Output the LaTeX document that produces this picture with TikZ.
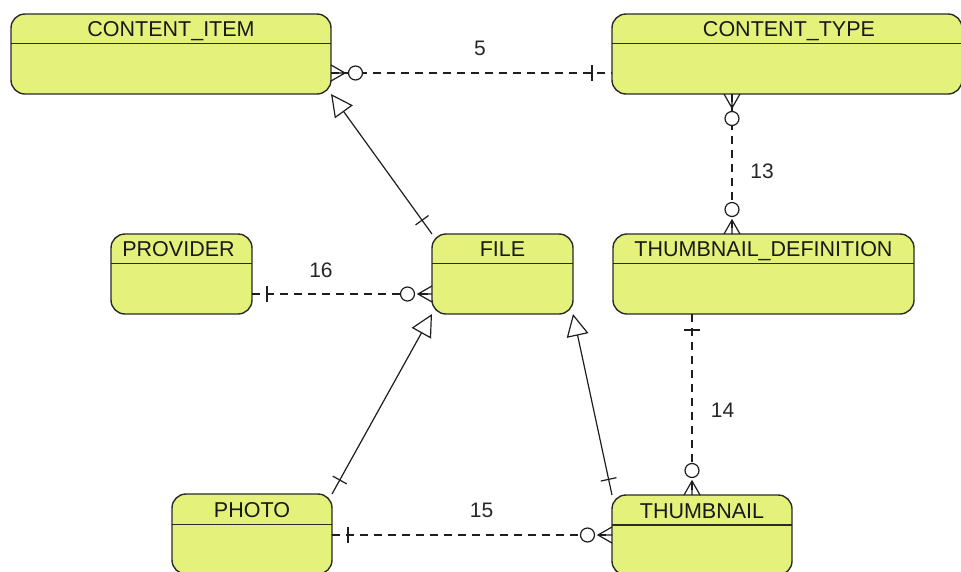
\documentclass[tikz,border=0pt]{standalone}
\usepackage{fontspec}
\setmainfont{Liberation Sans}
\usetikzlibrary{arrows.meta,decorations.markings}
\definecolor{cEnt}{HTML}{E4F27B}
\definecolor{cEdge}{HTML}{2A2A2A}
\definecolor{cLine}{HTML}{1E1E1E}
% crow's foot with ring; #1 = 1 at the start of a path, -1 at its end
\newcommand{\crowmany}[1]{%
  \draw[-,solid,line width=1.2pt,draw=cLine,xscale=#1]
    (-14pt,8pt) -- (0pt,0pt) -- (-14pt,-8pt) (-14pt,0pt) -- (0pt,0pt);
  \draw[-,solid,line width=1.2pt,draw=cLine,fill=white,xscale=#1] (10.5pt,0pt) circle (7pt);}
\newcommand{\onebar}{\draw[-,solid,line width=1.2pt,draw=cLine] (0pt,8pt) -- (0pt,-8pt);}
\tikzset{
  entity/.style ={draw=cEdge,fill=cEnt,line width=1.4pt,rounded corners=14pt,
                  minimum height=80pt,inner sep=0pt,outer sep=0pt,anchor=north west},
  divider/.style={draw=cEdge,line width=1.4pt},
  title/.style  ={font=\fontsize{21.5}{25}\selectfont,text=black!90,anchor=base,inner sep=0pt},
  rel/.style    ={draw=cLine,line width=1.2pt,dash pattern=on 8pt off 6pt},
  gen/.style    ={draw=cLine,line width=1.2pt,-{Triangle[open,length=22pt,width=22pt]}},
  lbl/.style    ={font=\fontsize{21}{25}\selectfont,text=black!85,inner sep=0pt},
  manyS/.style  ={postaction={decorate,decoration={markings,
                  mark=at position 14pt with {\crowmany{1}}}}},
  manyE/.style  ={postaction={decorate,decoration={markings,
                  mark=at position -14pt with {\crowmany{-1}}}}},
  onemark/.style={postaction={decorate,decoration={markings,
                  mark=at position #1 with {\onebar}}}},
  onemark/.default=17pt,
}

\begin{document}
\begin{tikzpicture}[x=1pt,y=-1pt]
\useasboundingbox (0,0) rectangle (961,571);
\clip (0,0) rectangle (961,571);

% --- entities ------------------------------------------------------------
\node[entity,minimum width=320pt] (ci) at (11,14) {};
\draw[divider] ([yshift=-29.5pt]ci.north west) -- ([yshift=-29.5pt]ci.north east);
\node[title] (ci-t) at ([yshift=-22.5pt]ci.north) {CONTENT\_ITEM};

\node[entity,minimum width=350pt] (ct) at (612,14) {};
\draw[divider] ([yshift=-29.5pt]ct.north west) -- ([yshift=-29.5pt]ct.north east);
\node[title] (ct-t) at ([yshift=-22.5pt,xshift=2pt]ct.north) {CONTENT\_TYPE};

\node[entity,minimum width=141pt] (pv) at (111,234) {};
\draw[divider] ([yshift=-29.5pt]pv.north west) -- ([yshift=-29.5pt]pv.north east);
\node[title] (pv-t) at ([yshift=-22.5pt,xshift=-3pt]pv.north) {PROVIDER};

\node[entity,minimum width=141pt] (fl) at (432,234) {};
\draw[divider] ([yshift=-29.5pt]fl.north west) -- ([yshift=-29.5pt]fl.north east);
\node[title] (fl-t) at ([yshift=-22.5pt]fl.north) {FILE};

\node[entity,minimum width=301pt] (td) at (613,234) {};
\draw[divider] ([yshift=-29.5pt]td.north west) -- ([yshift=-29.5pt]td.north east);
\node[title] (td-t) at ([yshift=-22.5pt]td.north) {THUMBNAIL\_DEFINITION};

\node[entity,minimum width=160pt] (ph) at (172,494) {};
\draw[divider] ([yshift=-30.5pt]ph.north west) -- ([yshift=-30.5pt]ph.north east);
\node[title] (ph-t) at ([yshift=-23.5pt]ph.north) {PHOTO};

\node[entity,minimum width=180pt] (th) at (612,495) {};
\draw[divider] ([yshift=-30pt]th.north west) -- ([yshift=-30pt]th.north east);
\node[title] (th-t) at ([yshift=-23pt]th.north) {THUMBNAIL};

% --- relationships -------------------------------------------------------
\draw[rel,manyS,onemark=-20pt] ([yshift=-19pt]ci.east)
  -- node[lbl,pos=.53,yshift=25pt] (r5) {5} ([yshift=-19pt]ct.west);
\draw[rel,manyS,manyE] ([xshift=-55pt]ct.south)
  -- node[lbl,pos=.554,xshift=30pt] (r13) {13} ([xshift=-55pt]ct.south |- td.north);
\draw[rel,onemark=15pt,manyE] ([yshift=-20pt]pv.east)
  -- node[lbl,pos=.383,yshift=24pt] (r16) {16} ([yshift=-20pt]fl.west);
\draw[rel,onemark=16pt,manyE] ([xshift=-71.5pt]td.south)
  -- node[lbl,pos=.533,xshift=30.5pt] (r14) {14} ([xshift=-71.5pt]td.south |- th.north);
\draw[rel,onemark=16pt,manyE] ([yshift=-1pt]ph.east)
  -- node[lbl,pos=.534,yshift=24.5pt] (r15) {15} ([yshift=-1pt]ph.east -| th.west);

% --- generalisation ------------------------------------------------------
\draw[gen,onemark=17pt] (fl.north west) -- (ci.south east);
\draw[gen,onemark=16pt] (ph.north east) -- (fl.south west);
\draw[gen,onemark=16pt] (th.north west) -- (fl.south east);

\end{tikzpicture}
\end{document}
